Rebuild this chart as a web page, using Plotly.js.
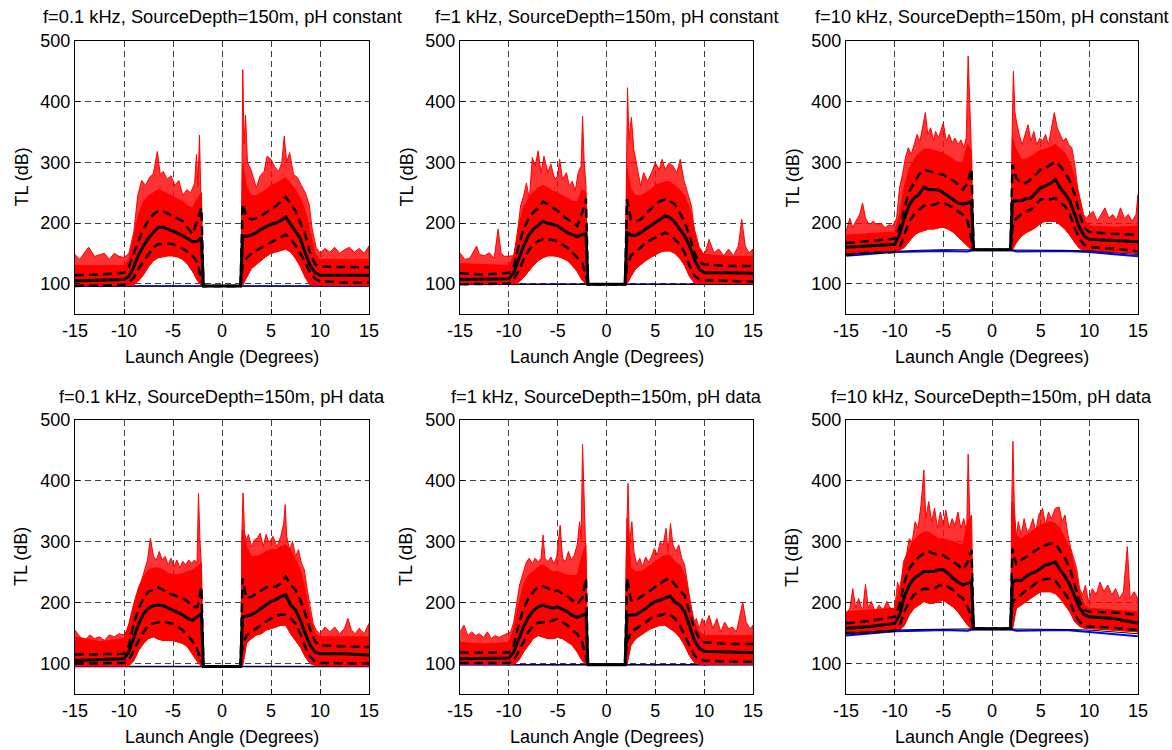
<!DOCTYPE html>
<html>
<head>
<meta charset="utf-8">
<script src="https://cdn.plot.ly/plotly-3.0.1.min.js"></script>
<style>
html,body{margin:0;padding:0;background:#fff;}
#chart{width:1172px;height:750px;}
</style>
</head>
<body>
<div id="chart"></div>
<script>
// Launch-angle grid shared by the mean / std / band arrays (degrees)
const ANG = [-15,-12.5,-10,-9.5,-9,-8.5,-8,-7.5,-7,-6.5,-6,-5.5,-5,-4.5,-4,-3.5,-3,-2.5,-2.1,-1.9,0,1.9,2.1,2.5,3,3.5,4,4.5,5,5.5,6,6.5,7,7.5,8,8.5,9,9.5,10,12.5,15];

const titles = [
  "f=0.1 kHz, SourceDepth=150m, pH constant",
  "f=1 kHz, SourceDepth=150m, pH constant",
  "f=10 kHz, SourceDepth=150m, pH constant",
  "f=0.1 kHz, SourceDepth=150m, pH data",
  "f=1 kHz, SourceDepth=150m, pH data",
  "f=10 kHz, SourceDepth=150m, pH data"
];
const xTicks = [-15,-10,-5,0,5,10,15];
const yTicks = [100,200,300,400,500];

// ---- panel 1: 0.1 kHz, pH constant
const mean1  = [105,106,107,112,128,148,163,175,185,193,193,190,187,183,179,174,169,170,176,96,96,96,178,178,180,184,190,194,198,200,204,210,198,188,174,150,130,118,114,114,114];
const sdHi1  = [114,115,118,128,150,172,190,205,214,220,219,215,212,208,203,192,182,205,225,96,96,96,232,210,206,208,212,217,222,228,235,243,232,220,200,180,150,132,128,127,127];
const sdLo1  = [96,97,98,102,110,125,137,150,160,165,166,166,165,162,158,152,146,135,105,96,96,96,130,142,150,155,160,164,168,172,177,181,173,163,150,135,118,108,104,102,102];
const redHi1 = [130,130,130,140,180,215,235,245,250,255,252,248,244,240,235,228,225,240,250,96,96,96,300,260,245,245,250,255,262,265,270,275,265,255,240,220,185,150,140,140,140];
const redLo1 = [97,97,97,97,98,105,115,128,138,143,145,146,146,144,140,132,120,105,97,97,97,97,97,110,125,132,138,145,150,153,155,157,152,142,128,110,98,97,97,97,97];
const pkX1 = [-15,-14.5,-14,-13.6,-13,-12,-11.5,-11,-10.5,-10,-9.5,-9,-8.6,-8.2,-7.8,-7.4,-7,-6.6,-6.3,-6,-5.6,-5.2,-4.8,-4.4,-4,-3.6,-3.2,-2.8,-2.6,-2.45,-2.3,-2.15,-2.0,-1.95,1.95,2.0,2.12,2.25,2.4,2.6,2.9,3.2,3.5,3.9,4.3,4.6,5.0,5.4,5.8,6.1,6.35,6.6,6.9,7.3,7.7,8.1,8.5,8.9,9.2,9.6,10,10.5,11,11.5,12,12.5,13,13.5,14,14.5,15];
const pkY1 = [148,140,152,160,145,150,140,150,145,143,150,185,245,270,262,275,282,318,280,285,272,278,262,270,245,255,250,265,313,260,345,230,150,97,97,200,453,330,378,300,290,275,258,278,285,310,305,292,285,300,343,300,316,280,275,262,250,230,190,160,150,158,152,160,150,156,160,152,158,150,162];

// ---- panel 2: 1 kHz, pH constant
const mean2  = [107,107,108,118,140,162,179,190,196,203,199,198,195,190,184,181,177,181,182,99,99,99,184,180,180,184,190,195,201,206,212,209,201,190,179,162,140,124,118,118,117];
const sdHi2  = [117,115,118,129,162,190,206,217,225,235,231,225,220,212,206,201,195,217,240,99,99,99,239,206,203,206,214,223,231,236,239,236,231,217,201,179,151,135,132,129,129];
const sdLo2  = [99,99,100,107,121,140,154,165,170,173,173,172,170,165,159,151,143,135,113,99,99,99,129,146,154,159,168,172,177,181,184,181,173,165,151,129,113,107,106,104,103];
const redHi2 = [133,132,130,145,195,225,240,250,258,262,258,252,250,245,240,236,235,255,250,99,99,99,290,255,245,245,250,255,262,265,268,268,262,255,245,225,190,160,148,145,145];
const redLo2 = [100,100,100,100,102,110,120,130,138,143,146,146,145,142,138,130,120,106,100,100,100,100,100,112,125,132,138,143,148,152,154,154,150,142,130,112,101,100,100,100,100];
const pkX2 = [-15,-14.5,-14,-13.3,-13,-12.5,-12,-11.5,-11.1,-10.8,-10.5,-10,-9.5,-9.2,-8.8,-8.5,-8.2,-7.9,-7.6,-7.3,-7.0,-6.7,-6.4,-6.0,-5.7,-5.3,-5.0,-4.8,-4.5,-4.1,-3.8,-3.5,-3.2,-2.9,-2.6,-2.45,-2.3,-2.1,-1.98,1.9,2.0,2.15,2.3,2.55,2.8,3.1,3.5,3.8,4.2,4.6,5.0,5.4,5.7,6.0,6.4,6.8,7.2,7.55,7.9,8.3,8.7,9.1,9.5,10,10.5,11,11.5,12,12.5,13,13.5,13.85,14.2,14.6,15];
const pkY2 = [151,140,142,162,148,146,151,142,190,151,145,146,146,173,228,244,266,239,308,294,319,283,310,283,297,272,277,305,272,283,261,269,253,283,294,376,305,261,100,100,239,423,338,374,321,294,261,283,269,283,299,288,305,288,299,294,283,305,272,250,228,173,151,146,173,151,157,146,157,146,162,206,162,151,157];

// ---- panel 3: 10 kHz, pH constant
const mean3  = [160,163,165,181,208,230,241,247,259,255,255,255,250,244,239,233,231,233,236,156,156,156,236,236,237,240,241,250,258,261,265,272,258,248,236,214,192,178,173,171,169];
const sdHi3  = [167,170,174,192,225,252,266,280,288,285,283,281,280,274,270,264,255,266,290,156,156,156,296,274,266,266,272,280,288,291,296,301,294,283,269,247,214,192,185,182,181];
const sdLo3  = [148,151,152,159,181,203,214,222,229,229,230,233,233,230,225,219,214,203,170,156,156,156,192,208,214,219,222,230,239,240,239,241,233,228,214,192,173,164,160,158,153];
const redHi3 = [180,182,185,215,260,290,305,315,322,322,320,318,315,310,305,300,300,330,320,156,156,156,340,320,305,305,310,315,320,322,325,330,322,315,300,275,240,205,195,193,195];
const redLo3 = [148,151,153,155,160,170,180,185,188,190,190,192,193,190,185,178,170,162,156,156,156,156,156,168,178,184,188,193,200,203,203,203,197,190,180,168,158,155,154,153,150];
const pkX3 = [-15,-14.6,-14.3,-14,-13.6,-13.3,-13,-12.6,-12.2,-11.8,-11.4,-11,-10.6,-10.2,-9.8,-9.5,-9.2,-8.9,-8.6,-8.3,-8.0,-7.7,-7.4,-7.1,-6.85,-6.6,-6.3,-6.0,-5.8,-5.5,-5.2,-5.0,-4.7,-4.4,-4.1,-3.8,-3.5,-3.2,-2.9,-2.65,-2.45,-2.3,-2.15,-2.0,1.95,2.05,2.2,2.35,2.5,2.8,3.1,3.4,3.7,4.0,4.3,4.6,4.9,5.2,5.5,5.8,6.1,6.4,6.7,7.0,7.3,7.6,7.9,8.2,8.5,8.8,9.1,9.4,9.7,10,10.4,10.8,11.2,11.6,12,12.4,12.8,13.2,13.6,14,14.4,14.8,15];
const pkY3 = [186,208,192,203,214,233,208,197,203,197,200,192,197,195,208,258,280,307,324,313,329,346,335,362,382,346,357,335,351,340,357,365,335,346,332,340,329,337,324,340,475,384,335,156,156,335,450,384,368,346,329,346,362,335,351,329,340,335,346,329,357,382,357,346,335,340,329,324,297,258,236,214,208,214,219,203,214,225,208,214,205,225,208,214,203,214,247];

// ---- panel 4: 0.1 kHz, pH data
const mean4  = [105,107,108,119,144,166,182,191,195,196,195,191,187,184,180,174,171,177,182,95,95,95,177,178,180,185,191,196,202,205,210,213,196,188,171,149,130,119,116,116,114];
const sdHi4  = [115,115,116,130,166,191,207,218,221,225,221,215,213,210,207,202,193,193,226,95,95,95,240,207,210,215,221,225,226,226,232,243,229,221,204,182,155,136,130,129,127];
const sdLo4  = [100,100,101,105,122,138,152,163,166,167,169,167,165,160,155,147,136,122,103,95,95,95,130,146,152,158,163,169,174,178,180,180,174,166,149,127,111,103,101,101,100];
const redHi4 = [144,136,141,166,199,226,243,254,257,257,254,248,246,246,248,251,254,259,265,95,95,95,320,292,276,276,279,284,287,287,292,295,287,270,254,221,177,149,144,144,144];
const redLo4 = [96,96,96,96,105,122,133,141,144,140,138,138,138,136,133,127,116,103,96,96,96,96,96,133,141,147,149,155,158,160,163,163,149,138,127,111,100,97,96,96,96];
const pkX4 = [-15,-14.5,-14,-13.5,-13,-12.5,-12,-11.5,-11,-10.5,-10,-9.5,-9,-8.5,-8,-7.6,-7.3,-7.0,-6.7,-6.4,-6.1,-5.8,-5.5,-5.2,-4.9,-4.6,-4.3,-4,-3.7,-3.4,-3.1,-2.8,-2.55,-2.4,-2.25,-2.1,-2.0,1.95,2.0,2.15,2.3,2.5,2.7,3.0,3.3,3.6,3.9,4.2,4.5,4.8,5.2,5.6,6.0,6.3,6.45,6.6,6.9,7.2,7.5,7.8,8.1,8.4,8.7,9.0,9.3,9.6,10,10.5,11,11.5,12,12.5,12.85,13.2,13.6,14,14.5,15];
const pkY4 = [155,144,138,147,141,144,138,147,144,149,147,160,193,221,248,270,306,276,270,284,270,276,262,273,259,270,257,268,262,270,265,270,265,380,303,259,96,96,300,380,314,303,312,292,303,306,314,292,312,298,309,292,309,331,361,309,287,301,276,287,265,254,221,193,166,155,149,160,152,160,149,158,174,155,149,158,149,166];

// ---- panel 5: 1 kHz, pH data
const mean5  = [108,108,109,119,141,160,176,187,193,196,193,191,193,189,185,179,176,179,182,98,98,98,179,179,180,185,190,197,202,204,208,211,201,196,185,163,138,125,120,119,118];
const sdHi5  = [118,118,118,130,163,190,207,218,226,227,224,218,220,215,211,204,198,207,240,98,98,98,240,204,204,209,215,220,226,231,237,240,229,220,212,185,157,141,135,132,132];
const sdLo5  = [101,101,101,105,119,135,152,163,167,168,167,171,173,168,163,154,149,135,113,98,98,98,135,152,157,163,167,174,179,179,182,180,174,163,146,130,113,107,105,103,103];
const redHi5 = [135,132,135,157,196,229,245,251,259,262,256,251,251,248,245,245,245,278,295,98,98,98,338,256,251,251,256,262,267,273,278,278,267,262,245,207,168,152,146,146,146];
const redLo5 = [99,99,99,99,105,119,130,141,146,143,141,141,143,141,135,130,119,105,99,99,99,99,99,130,141,146,152,157,160,163,163,157,152,143,130,113,102,99,99,99,99];
const pkX5 = [-15,-14.6,-14.2,-13.8,-13.4,-13,-12.6,-12.2,-11.8,-11.4,-11,-10.6,-10.2,-9.8,-9.5,-9.2,-8.9,-8.5,-8.2,-7.9,-7.6,-7.3,-7.0,-6.7,-6.5,-6.3,-6.0,-5.7,-5.4,-5.1,-4.75,-4.5,-4.2,-3.9,-3.6,-3.3,-3.0,-2.75,-2.6,-2.45,-2.3,-2.15,-2.0,1.9,2.0,2.2,2.35,2.6,2.8,3.1,3.4,3.7,4.0,4.3,4.6,4.9,5.2,5.5,5.8,6.1,6.3,6.55,6.8,7.1,7.4,7.7,8.0,8.3,8.6,8.9,9.2,9.5,9.8,10.1,10.5,10.9,11.3,11.7,12.1,12.5,12.9,13.3,13.6,13.95,14.3,14.7,15];
const pkY5 = [152,163,146,152,146,149,143,152,141,146,143,146,149,152,168,196,229,251,267,273,264,273,267,273,311,273,267,275,264,275,327,273,267,284,270,278,295,333,305,460,349,295,97,97,267,396,295,333,284,262,273,259,275,267,275,289,278,300,295,322,284,330,295,284,295,273,262,229,196,168,174,157,174,163,179,157,174,152,168,157,160,152,174,201,168,157,163];

// ---- panel 6: 10 kHz, pH data
const mean6  = [158,161,166,180,210,229,240,245,251,251,251,254,254,248,240,234,229,232,234,157,157,157,234,237,236,243,248,251,256,262,264,267,254,243,229,210,191,180,177,174,166];
const sdHi6  = [166,170,177,196,234,256,267,275,281,284,281,278,278,273,267,262,254,267,286,157,157,157,289,262,270,275,281,286,292,295,297,297,286,273,256,229,202,188,185,184,180];
const sdLo6  = [150,151,154,163,185,202,213,219,223,222,222,228,230,226,221,213,207,193,174,157,157,157,200,208,213,221,225,232,237,239,240,236,226,215,202,180,169,162,161,159,155];
const redHi6 = [185,188,191,223,267,289,303,311,316,316,311,305,305,303,300,297,295,333,344,157,157,157,366,310,305,311,316,322,327,330,333,330,322,305,289,256,218,196,191,188,185];
const redLo6 = [150,150,155,155,163,180,191,196,202,199,199,202,204,199,193,185,174,163,157,157,157,157,157,191,196,202,207,213,218,218,218,215,207,196,185,169,161,158,158,155,152];
const pkX6 = [-15,-14.6,-14.3,-14,-13.7,-13.3,-13,-12.7,-12.4,-12,-11.6,-11.2,-10.8,-10.4,-10,-9.7,-9.4,-9.1,-8.8,-8.5,-8.2,-7.9,-7.6,-7.3,-7.0,-6.8,-6.5,-6.2,-5.9,-5.6,-5.3,-5.0,-4.75,-4.4,-4.1,-3.8,-3.5,-3.2,-2.9,-2.6,-2.45,-2.3,-2.15,-2.0,1.95,2.0,2.15,2.3,2.5,2.7,3.0,3.3,3.6,3.9,4.2,4.5,4.8,5.2,5.5,5.8,6.1,6.5,6.9,7.2,7.5,7.8,8.1,8.4,8.7,9.0,9.3,9.6,9.9,10.3,10.7,11.1,11.5,11.9,12.3,12.7,13.1,13.5,13.9,14.2,14.6,15];
const pkY6 = [180,191,223,191,207,185,230,191,202,185,196,188,202,190,190,234,213,267,278,305,300,333,322,360,418,338,366,333,355,322,349,327,352,322,338,327,349,322,338,316,444,344,289,158,158,344,465,355,305,333,311,338,316,322,338,316,344,355,327,349,338,355,357,333,344,311,289,273,256,223,213,229,202,223,213,234,218,229,213,223,207,218,292,207,218,207];

// reference (minimum) TL lines: thin black and blue
const baseVal = [96, 99, 156, 95, 98, 157];
const refX   = [-15,-12.5,-10,-7.5,-5,-2.5,-2,0,2,2.5,5,7.5,10,12.5,15];
const black3 = [149,151,154,155,156,156,156,156,156,156,156,155,154,151,148];
const blue3  = [146,149,152,153,154,153,155,155,155,153,154,154,152,149,145];
const black6 = [149,152,155,156,157,157,157,157,157,157,156,156,155,152,149];
const blue6  = [146,149,153,154,155,154,156,156,156,154,155,155,152,149,145];

const panels = [
  {mean:mean1, hi:sdHi1, lo:sdLo1, rH:redHi1, rL:redLo1, pX:pkX1, pY:pkY1},
  {mean:mean2, hi:sdHi2, lo:sdLo2, rH:redHi2, rL:redLo2, pX:pkX2, pY:pkY2},
  {mean:mean3, hi:sdHi3, lo:sdLo3, rH:redHi3, rL:redLo3, pX:pkX3, pY:pkY3, bk:black3, bl:blue3},
  {mean:mean4, hi:sdHi4, lo:sdLo4, rH:redHi4, rL:redLo4, pX:pkX4, pY:pkY4},
  {mean:mean5, hi:sdHi5, lo:sdLo5, rH:redHi5, rL:redLo5, pX:pkX5, pY:pkY5},
  {mean:mean6, hi:sdHi6, lo:sdLo6, rH:redHi6, rL:redLo6, pX:pkX6, pY:pkY6, bk:black6, bl:blue6}
];

const W = 1172, H = 750;
const colPx = [[75,369],[460,753],[846,1138]];
const rowPx = [[41,314],[420,694]];
const FONT = "Liberation Sans, Arial, Helvetica, sans-serif";

const traces = [];
const layout = {
  width: W, height: H,
  margin: {l:0, r:0, t:0, b:0},
  paper_bgcolor: '#fff', plot_bgcolor: '#fff',
  showlegend: false,
  font: {family: FONT, size: 18, color: '#000'},
  annotations: []
};

const rev = a => a.slice().reverse();

panels.forEach((p, i) => {
  const n = i + 1;
  const xr = 'x' + (n === 1 ? '' : n), yr = 'y' + (n === 1 ? '' : n);
  const c = i % 3, r = Math.floor(i / 3);
  const xd = [colPx[c][0] / W, colPx[c][1] / W];
  const yd = [1 - rowPx[r][1] / H, 1 - rowPx[r][0] / H];
  const base = baseVal[i];
  const is10 = !!p.bk;
  const refBlack = is10 ? p.bk : refX.map(() => base);
  const refBlue = is10 ? p.bl : refX.map(() => base);

  if (!is10) {
    traces.push({x: refX, y: refBlue, xaxis: xr, yaxis: yr, mode: 'lines', line: {color: '#0000ff', width: 1.5}, hoverinfo: 'skip'});
    traces.push({x: refX, y: refBlack, xaxis: xr, yaxis: yr, mode: 'lines', line: {color: '#000', width: 1}, hoverinfo: 'skip'});
  }
  // sparse outer red envelope (individual realisations)
  traces.push({x: p.pX.concat(rev(ANG)), y: p.pY.concat(rev(p.rL)), xaxis: xr, yaxis: yr,
    mode: 'lines', fill: 'toself', fillcolor: 'rgba(255,0,0,0.8)', line: {color: '#ff0000', width: 1}, hoverinfo: 'skip'});
  // dense red band
  traces.push({x: ANG.concat(rev(ANG)), y: p.rH.concat(rev(p.rL)), xaxis: xr, yaxis: yr,
    mode: 'lines', fill: 'toself', fillcolor: '#ff0000', line: {color: '#ff0000', width: 1}, hoverinfo: 'skip'});
  if (is10) {
    traces.push({x: refX, y: refBlue, xaxis: xr, yaxis: yr, mode: 'lines', line: {color: '#0000ff', width: 2}, hoverinfo: 'skip'});
    traces.push({x: refX, y: refBlack, xaxis: xr, yaxis: yr, mode: 'lines', line: {color: '#000', width: 1}, hoverinfo: 'skip'});
  }
  // +/- std dashed
  [p.hi, p.lo].forEach(s => traces.push({x: ANG, y: s, xaxis: xr, yaxis: yr, mode: 'lines',
    line: {color: '#000', width: 2.5, dash: '9px,5px'}, hoverinfo: 'skip'}));
  // mean
  traces.push({x: ANG, y: p.mean, xaxis: xr, yaxis: yr, mode: 'lines', line: {color: '#000', width: 3}, hoverinfo: 'skip'});

  const common = {
    showgrid: true, gridcolor: '#404040', griddash: '6px,4px', gridwidth: 1,
    showline: true, mirror: true, linecolor: '#000', linewidth: 1.2,
    ticks: 'inside', ticklen: 5, tickcolor: '#000', zeroline: false,
    tickfont: {family: FONT, size: 18, color: '#000'}, fixedrange: true
  };
  layout['xaxis' + (n === 1 ? '' : n)] = Object.assign({}, common, {
    domain: xd, anchor: yr, range: [-15, 15], tickmode: 'array',
    tickvals: xTicks, ticktext: xTicks.map(String)
  });
  layout['yaxis' + (n === 1 ? '' : n)] = Object.assign({}, common, {
    domain: yd, anchor: xr, range: [50, 500], tickmode: 'array',
    tickvals: yTicks, ticktext: yTicks.map(String)
  });

  const cx = (xd[0] + xd[1]) / 2;
  layout.annotations.push({text: titles[i], xref: 'paper', yref: 'paper', x: cx, y: 1 - (rowPx[r][0] - 24) / H,
    xanchor: 'center', yanchor: 'middle', showarrow: false, font: {family: FONT, size: 18.3, color: '#000'}});
  layout.annotations.push({text: 'Launch Angle (Degrees)', xref: 'paper', yref: 'paper', x: cx, y: 1 - (rowPx[r][1] + 43) / H,
    xanchor: 'center', yanchor: 'middle', showarrow: false, font: {family: FONT, size: 18, color: '#000'}});
  layout.annotations.push({text: 'TL (dB)', xref: 'paper', yref: 'paper', x: (colPx[c][0] - 54) / W, y: (yd[0] + yd[1]) / 2,
    xanchor: 'center', yanchor: 'middle', textangle: -90, showarrow: false, font: {family: FONT, size: 18, color: '#000'}});
});

Plotly.newPlot('chart', traces, layout, {displayModeBar: false, staticPlot: true});
</script>
</body>
</html>
